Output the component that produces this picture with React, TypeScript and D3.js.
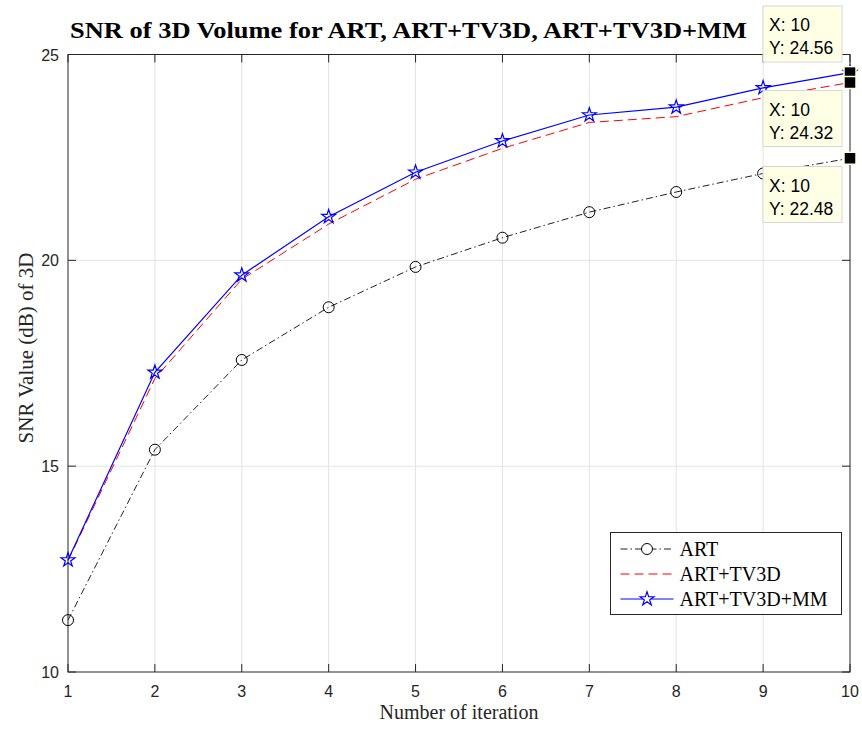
import React, { useRef, useEffect } from "react";
import * as d3 from "d3";

const iterations = [1, 2, 3, 4, 5, 6, 7, 8, 9, 10];
const artValues = [11.26, 15.4, 17.58, 18.86, 19.84, 20.55, 21.17, 21.66, 22.11, 22.48];
const tv3dValues = [12.7, 17.13, 19.54, 20.88, 21.97, 22.72, 23.35, 23.49, 23.95, 24.32];
const mmValues = [12.72, 17.28, 19.64, 21.06, 22.14, 22.9, 23.53, 23.72, 24.19, 24.56];
const yTicks = [10, 15, 20, 25];
const seriesNames = ["ART", "ART+TV3D", "ART+TV3D+MM"];
const tipValues = [24.56, 24.32, 22.48];

export default function App() {
  const svgRef = useRef<SVGSVGElement>(null);

  useEffect(() => {
    const svg = d3.select(svgRef.current);
    svg.selectAll("*").remove();

    const margin = { top: 54.5, right: 12, bottom: 59, left: 68 };
    const width = 862 - margin.left - margin.right;
    const height = 731 - margin.top - margin.bottom;

    const x = d3.scaleLinear().domain([1, 10]).range([0, width]);
    const y = d3.scaleLinear().domain([10, 25]).range([height, 0]);

    const g = svg.append("g").attr("transform", `translate(${margin.left},${margin.top})`);

    // grid
    g.selectAll(".gx")
      .data(iterations.slice(1, -1))
      .enter()
      .append("line")
      .attr("x1", (d) => x(d))
      .attr("x2", (d) => x(d))
      .attr("y1", 0)
      .attr("y2", height)
      .attr("stroke", "#e3e3e3");
    g.selectAll(".gy")
      .data(yTicks.slice(1, -1))
      .enter()
      .append("line")
      .attr("x1", 0)
      .attr("x2", width)
      .attr("y1", (d) => y(d))
      .attr("y2", (d) => y(d))
      .attr("stroke", "#e3e3e3");

    // axes box
    g.append("rect")
      .attr("width", width)
      .attr("height", height)
      .attr("fill", "none")
      .attr("stroke", "#262626");

    const tickLen = 8;
    iterations.forEach((d) => {
      g.append("line").attr("x1", x(d)).attr("x2", x(d)).attr("y1", height).attr("y2", height - tickLen).attr("stroke", "#262626");
      g.append("line").attr("x1", x(d)).attr("x2", x(d)).attr("y1", 0).attr("y2", tickLen).attr("stroke", "#262626");
      g.append("text")
        .attr("x", x(d))
        .attr("y", height + 25)
        .attr("text-anchor", "middle")
        .attr("font-family", "Liberation Sans, Arial, sans-serif")
        .attr("font-size", 16)
        .attr("fill", "#262626")
        .text(d);
    });
    yTicks.forEach((d) => {
      g.append("line").attr("x1", 0).attr("x2", tickLen).attr("y1", y(d)).attr("y2", y(d)).attr("stroke", "#262626");
      g.append("line").attr("x1", width).attr("x2", width - tickLen).attr("y1", y(d)).attr("y2", y(d)).attr("stroke", "#262626");
      g.append("text")
        .attr("x", -9)
        .attr("y", y(d) + 6)
        .attr("text-anchor", "end")
        .attr("font-family", "Liberation Sans, Arial, sans-serif")
        .attr("font-size", 16)
        .attr("fill", "#262626")
        .text(d);
    });

    // labels
    svg.append("text")
      .attr("x", 70)
      .attr("y", 38)
      .attr("font-family", "Liberation Serif, Times New Roman, serif")
      .attr("font-weight", "bold")
      .attr("font-size", 24)
      .attr("textLength", 677)
      .attr("lengthAdjust", "spacingAndGlyphs")
      .attr("fill", "#000")
      .text("SNR of 3D Volume for ART, ART+TV3D, ART+TV3D+MM");
    svg.append("text")
      .attr("x", margin.left + width / 2)
      .attr("y", 719)
      .attr("text-anchor", "middle")
      .attr("font-family", "Liberation Serif, Times New Roman, serif")
      .attr("font-size", 20)
      .attr("fill", "#262626")
      .text("Number of iteration");
    svg.append("text")
      .attr("transform", "translate(33,348) rotate(-90)")
      .attr("text-anchor", "middle")
      .attr("font-family", "Liberation Serif, Times New Roman, serif")
      .attr("font-size", 21)
      .attr("fill", "#262626")
      .text("SNR Value (dB) of 3D");

    const line = d3
      .line<number>()
      .x((_, i) => x(iterations[i]))
      .y((d) => y(d));

    const starPath = d3.symbol().type(d3.symbolStar).size(60)();

    // ART
    g.append("path")
      .attr("d", line(artValues))
      .attr("fill", "none")
      .attr("stroke", "#222")
      .attr("stroke-width", 1)
      .attr("stroke-dasharray", "7,3,1.5,3");
    g.selectAll(".c")
      .data(artValues)
      .enter()
      .append("circle")
      .attr("cx", (_, i) => x(iterations[i]))
      .attr("cy", (d) => y(d))
      .attr("r", 5.5)
      .attr("fill", "none")
      .attr("stroke", "#000");

    // ART+TV3D
    g.append("path")
      .attr("d", line(tv3dValues))
      .attr("fill", "none")
      .attr("stroke", "#ff0000")
      .attr("stroke-width", 1)
      .attr("stroke-dasharray", "9,5");

    // ART+TV3D+MM
    g.append("path")
      .attr("d", line(mmValues))
      .attr("fill", "none")
      .attr("stroke", "#0000ff")
      .attr("stroke-width", 1.2);
    g.selectAll(".s")
      .data(mmValues)
      .enter()
      .append("path")
      .attr("d", starPath)
      .attr("transform", (d, i) => `translate(${x(iterations[i])},${y(d)})`)
      .attr("fill", "none")
      .attr("stroke", "#0000ff")
      .attr("stroke-width", 1.2);

    // legend
    const lx = 610.5 - margin.left;
    const ly = 532.5 - margin.top;
    const leg = g.append("g").attr("transform", `translate(${lx},${ly})`);
    leg.append("rect").attr("width", 231).attr("height", 82).attr("fill", "#fff").attr("stroke", "#262626");
    const legStyles = [
      { stroke: "#222", dash: "7,3,1.5,3", marker: "circle" },
      { stroke: "#ff0000", dash: "9,5", marker: "none" },
      { stroke: "#0000ff", dash: "none", marker: "star" },
    ];
    seriesNames.forEach((name, i) => {
      const cy = 16.5 + i * 25;
      const s = legStyles[i];
      leg.append("line")
        .attr("x1", 10)
        .attr("x2", 63)
        .attr("y1", cy)
        .attr("y2", cy)
        .attr("stroke", s.stroke)
        .attr("stroke-dasharray", s.dash);
      if (s.marker === "circle") {
        leg.append("circle").attr("cx", 36.5).attr("cy", cy).attr("r", 5.5).attr("fill", "#fff").attr("stroke", "#000");
      } else if (s.marker === "star") {
        leg.append("path")
          .attr("d", starPath)
          .attr("transform", `translate(36.5,${cy})`)
          .attr("fill", "#fff")
          .attr("stroke", "#0000ff")
          .attr("stroke-width", 1.2);
      }
      leg.append("text")
        .attr("x", 69)
        .attr("y", cy + 6.5)
        .attr("font-family", "Liberation Serif, Times New Roman, serif")
        .attr("font-size", 20)
        .attr("fill", "#000")
        .text(name);
    });

    // data tips
    const tipTops = [6, 90.5, 166.5];
    tipValues.forEach((v, i) => {
      const tg = svg.append("g").attr("transform", `translate(763,${tipTops[i]})`);
      tg.append("rect").attr("width", 79).attr("height", 56).attr("fill", "#ffffe6").attr("stroke", "#d6d6d6");
      tg.append("text")
        .attr("x", 6)
        .attr("y", 25)
        .attr("font-family", "Liberation Sans, Arial, sans-serif")
        .attr("font-size", 17.5)
        .attr("fill", "#000")
        .text("X: 10");
      tg.append("text")
        .attr("x", 6)
        .attr("y", 48)
        .attr("font-family", "Liberation Sans, Arial, sans-serif")
        .attr("font-size", 17.5)
        .attr("fill", "#000")
        .text(`Y: ${v.toFixed(2)}`);
    });
    tipValues.forEach((v) => {
      g.append("rect")
        .attr("x", x(10) - 6)
        .attr("y", y(v) - 6)
        .attr("width", 12)
        .attr("height", 12)
        .attr("fill", "#000")
        .attr("stroke", "#ffffe0")
        .attr("stroke-width", 1.5);
    });
  }, []);

  return (
    <svg
      ref={svgRef}
      width={862}
      height={731}
      style={{ display: "block", position: "absolute", left: 0, top: 0, background: "#fff" }}
    />
  );
}
